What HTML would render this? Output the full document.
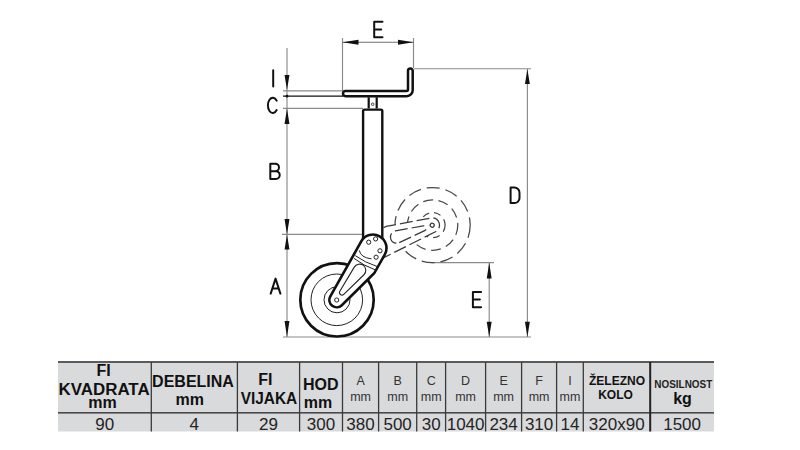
<!DOCTYPE html>
<html><head><meta charset="utf-8"><style>
html,body{margin:0;padding:0;background:#fff;width:800px;height:450px;overflow:hidden}
body{position:relative;font-family:"Liberation Sans",sans-serif}
</style></head><body>

<svg width="800" height="450" viewBox="0 0 800 450" style="position:absolute;left:0;top:0">
 <!-- dimension lines -->
 <g stroke="#8a8a8a" stroke-width="1.15" fill="none">
  <path d="M342.5 38 V91 M413.5 38 V68"/>
  <path d="M342.5 42.2 H413.5" stroke="#6e6e6e"/>
  <path d="M287 48 V337"/>
  <path d="M283 90.8 H342"/>
  <path d="M283 108.4 H363"/>
  <path d="M282 234.4 H363"/>
  <path d="M283 337 H531"/>
  <path d="M414 68.7 H531 M527.4 69 V337"/>
  <path d="M431 262.6 H494 M489.2 263 V337"/>
 </g>
 <path d="M283 96.2 H343" stroke="#111" stroke-width="1.3"/>
 <circle cx="287" cy="96.2" r="1.4" fill="#111"/>
 <g fill="#111">
  <path d="M342.5 42.2 L358.5 39.75 L358.5 44.65 Z"/><path d="M413.5 42.2 L398 39.75 L398 44.65 Z"/>
  <path d="M287 90 L284.55 75 L289.45 75 Z"/><path d="M287 108.4 L284.55 124 L289.45 124 Z"/>
  <path d="M287 234.4 L284.55 219 L289.45 219 Z"/><path d="M287 234.6 L284.55 249.6 L289.45 249.6 Z"/><path d="M287 337 L284.55 321 L289.45 321 Z"/>
  <path d="M527.4 69.3 L524.95 84 L529.85 84 Z"/><path d="M527.4 337 L524.95 321.7 L529.85 321.7 Z"/>
  <path d="M489.2 262.7 L486.75 278.5 L491.65 278.5 Z"/><path d="M489.2 337 L486.75 321.7 L491.65 321.7 Z"/>
 </g>
 <path d="M382.5 21.8 H374.2 V37.2 H382.5 M374.2 29.5 H381.25 M273.2 70.2 V86.4 M276.66 100.64 A4.9 7.65 0 1 0 276.66 110.06 M270.3 163.7 H275.27 A3.73 3.73 0 0 1 275.27 171.16 H270.3 V163.7 M275.88 171.16 A3.83 3.92 0 0 1 275.88 179 H270.3 V171.16 M270.7 293.6 L275.55 278.6 L280.4 293.6 M272.64 288.5 H278.46 M510.6 187.5 H514.34 A5.16 5.16 0 0 1 519.5 192.66 V197.94 A5.16 5.16 0 0 1 514.34 203.1 H510.6 Z M481.1 292 H472.9 V307.2 H481.1 M472.9 299.6 H479.87" stroke="#111" stroke-width="2" fill="none" stroke-linejoin="round" stroke-linecap="round"/>

 <!-- dashed folded wheel & arm -->
 <g stroke="#474747" stroke-width="1.25" fill="none">
  <circle cx="432.6" cy="225.1" r="37.6" stroke-dasharray="13 6"/>
  <circle cx="432.6" cy="225.1" r="25.2" stroke-dasharray="10 5.5"/>
  <circle cx="432.6" cy="225.1" r="12.5" stroke-dasharray="7 5"/>
 </g>
 <g transform="rotate(-146 373 248)" stroke="#3a3a3a" stroke-width="1.25" stroke-dasharray="13 4">
  <path d="M361.23 241.39 L330.33 296.43 A7.3 7.3 0 0 0 341.82 305.2 L374.2 273.3 L384.75 254.65 A13.5 13.5 0 1 0 361.23 241.39 Z" fill="#fff"/>
  <path d="M354.27 267.13 L339.85 291.32 A2.5 2.5 0 0 0 343.74 294.39 L363.93 274.74 A6.2 6.2 0 1 0 354.27 267.13 Z" fill="none"/>
  <circle cx="336.7" cy="300.0" r="2" fill="none" stroke-dasharray="none"/>
 </g>

 <!-- wheel -->
 <circle cx="337" cy="299.8" r="36.7" fill="#fff" stroke="#111" stroke-width="2.7"/>
 <circle cx="336.8" cy="299.8" r="25.8" fill="none" stroke="#222" stroke-width="1"/>
 <circle cx="337" cy="299.8" r="13" fill="none" stroke="#222" stroke-width="1"/>

 <!-- plate -->
 <path d="M345.6 91 H406.6 Q408 91 408 89.6 V70.8 A2.35 2.35 0 0 1 412.7 70.8 V90.2 A6 6 0 0 1 406.7 96.2 H345.6 A2.6 2.6 0 0 1 345.6 91 Z" fill="#fff" stroke="#111" stroke-width="2.5"/>
 <!-- neck -->
 <path d="M368.7 97.2 V108.6 M376.7 97.2 V108.6" stroke="#111" stroke-width="2.2"/>
 <circle cx="372.7" cy="104.2" r="1.3" fill="none" stroke="#333" stroke-width="0.9"/>
 <!-- tube -->
 <path d="M363.1 245 V111 Q363.1 109.6 364.5 109.6 H380.9 Q382.3 109.6 382.3 111 V245" fill="#fff" stroke="#111" stroke-width="2.4"/>

 <!-- arm -->
 <path d="M361.23 241.39 L330.33 296.43 A7.3 7.3 0 0 0 341.82 305.2 L374.2 273.3 L384.75 254.65 A13.5 13.5 0 1 0 361.23 241.39 Z" fill="#fff" stroke="#111" stroke-width="2.6"/>
 <path d="M354.27 267.13 L339.85 291.32 A2.5 2.5 0 0 0 343.74 294.39 L363.93 274.74 A6.2 6.2 0 1 0 354.27 267.13 Z" fill="none" stroke="#222" stroke-width="1.1"/>
 <path d="M355.2 255.6 Q364.8 262.5 377.4 266.6 M354 258.4 Q363.3 265.5 375.6 270 M359.3 250.4 Q360.6 257.6 371.5 258.9" fill="none" stroke="#222" stroke-width="1"/>
 <g fill="none" stroke="#222" stroke-width="1"><circle cx="368.7" cy="242.2" r="2.1"/><circle cx="375.6" cy="238.9" r="2.1"/><circle cx="380" cy="250.8" r="2.1"/><circle cx="376.1" cy="257.2" r="2.1"/>
  <circle cx="336.7" cy="300.0" r="2.1"/>
 </g>
</svg>
<svg width="800" height="450" viewBox="0 0 800 450" style="position:absolute;left:0;top:0" font-family="Liberation Sans, sans-serif"><rect x="58" y="362" width="656" height="69.5" fill="#d9dadc"/><rect x="58" y="361" width="656" height="2" fill="#5a5a5a"/><rect x="58" y="412" width="656" height="1.6" fill="#4a4a4a"/><rect x="150.65" y="362" width="1.3" height="69.5" fill="#3a3a3a"/><rect x="236.75" y="362" width="1.3" height="69.5" fill="#3a3a3a"/><rect x="298.95" y="362" width="1.3" height="69.5" fill="#3a3a3a"/><rect x="341.85" y="362" width="1.3" height="69.5" fill="#3a3a3a"/><rect x="377.95" y="362" width="1.3" height="69.5" fill="#3a3a3a"/><rect x="416.05" y="362" width="1.3" height="69.5" fill="#3a3a3a"/><rect x="444.95" y="362" width="1.3" height="69.5" fill="#3a3a3a"/><rect x="484.95" y="362" width="1.3" height="69.5" fill="#3a3a3a"/><rect x="520.95" y="362" width="1.3" height="69.5" fill="#3a3a3a"/><rect x="555.95" y="362" width="1.3" height="69.5" fill="#3a3a3a"/><rect x="582.65" y="362" width="1.3" height="69.5" fill="#3a3a3a"/><rect x="649.2" y="362" width="2" height="69.5" fill="#222"/><text x="103.5" y="376.2" font-size="16" font-weight="bold" fill="#111" text-anchor="middle">FI</text><text x="104.1" y="394.8" font-size="16" font-weight="bold" fill="#111" text-anchor="middle" textLength="91" lengthAdjust="spacingAndGlyphs">KVADRATA</text><text x="102.4" y="408.1" font-size="16" font-weight="bold" fill="#111" text-anchor="middle">mm</text><text x="193" y="386.5" font-size="16" font-weight="bold" fill="#111" text-anchor="middle">DEBELINA</text><text x="189.7" y="405" font-size="16" font-weight="bold" fill="#111" text-anchor="middle">mm</text><text x="265.3" y="384.7" font-size="16" font-weight="bold" fill="#111" text-anchor="middle">FI</text><text x="269" y="403.7" font-size="16" font-weight="bold" fill="#111" text-anchor="middle" textLength="56.5" lengthAdjust="spacingAndGlyphs">VIJAKA</text><text x="320.7" y="389.6" font-size="16" font-weight="bold" fill="#111" text-anchor="middle">HOD</text><text x="318" y="408.1" font-size="16" font-weight="bold" fill="#111" text-anchor="middle">mm</text><text x="360.55" y="385" font-size="12.5" font-weight="normal" fill="#333" text-anchor="middle">A</text><text x="360.55" y="400.9" font-size="12.5" font-weight="normal" fill="#333" text-anchor="middle">mm</text><text x="397.65" y="385" font-size="12.5" font-weight="normal" fill="#333" text-anchor="middle">B</text><text x="397.65" y="400.9" font-size="12.5" font-weight="normal" fill="#333" text-anchor="middle">mm</text><text x="431.15" y="385" font-size="12.5" font-weight="normal" fill="#333" text-anchor="middle">C</text><text x="431.15" y="400.9" font-size="12.5" font-weight="normal" fill="#333" text-anchor="middle">mm</text><text x="465.6" y="385" font-size="12.5" font-weight="normal" fill="#333" text-anchor="middle">D</text><text x="465.6" y="400.9" font-size="12.5" font-weight="normal" fill="#333" text-anchor="middle">mm</text><text x="503.6" y="385" font-size="12.5" font-weight="normal" fill="#333" text-anchor="middle">E</text><text x="503.6" y="400.9" font-size="12.5" font-weight="normal" fill="#333" text-anchor="middle">mm</text><text x="539.1" y="385" font-size="12.5" font-weight="normal" fill="#333" text-anchor="middle">F</text><text x="539.1" y="400.9" font-size="12.5" font-weight="normal" fill="#333" text-anchor="middle">mm</text><text x="569.95" y="385" font-size="12.5" font-weight="normal" fill="#333" text-anchor="middle">I</text><text x="569.95" y="400.9" font-size="12.5" font-weight="normal" fill="#333" text-anchor="middle">mm</text><text x="617" y="384.5" font-size="12" font-weight="bold" fill="#111" text-anchor="middle">ŽELEZNO</text><text x="615.5" y="399.4" font-size="12" font-weight="bold" fill="#111" text-anchor="middle">KOLO</text><text x="683.3" y="387.7" font-size="10.5" font-weight="bold" fill="#222" text-anchor="middle" textLength="58" lengthAdjust="spacingAndGlyphs">NOSILNOST</text><text x="682.5" y="403.8" font-size="16" font-weight="bold" fill="#111" text-anchor="middle">kg</text><text x="104.65" y="430" font-size="17" font-weight="normal" fill="#242424" text-anchor="middle">90</text><text x="194.35" y="430" font-size="17" font-weight="normal" fill="#242424" text-anchor="middle">4</text><text x="268.5" y="430" font-size="17" font-weight="normal" fill="#242424" text-anchor="middle">29</text><text x="321.05" y="430" font-size="17" font-weight="normal" fill="#242424" text-anchor="middle">300</text><text x="360.55" y="430" font-size="17" font-weight="normal" fill="#242424" text-anchor="middle">380</text><text x="397.65" y="430" font-size="17" font-weight="normal" fill="#242424" text-anchor="middle">500</text><text x="431.15" y="430" font-size="17" font-weight="normal" fill="#242424" text-anchor="middle">30</text><text x="465.6" y="430" font-size="17" font-weight="normal" fill="#242424" text-anchor="middle">1040</text><text x="503.6" y="430" font-size="17" font-weight="normal" fill="#242424" text-anchor="middle">234</text><text x="539.1" y="430" font-size="17" font-weight="normal" fill="#242424" text-anchor="middle">310</text><text x="569.95" y="430" font-size="17" font-weight="normal" fill="#242424" text-anchor="middle">14</text><text x="616.75" y="430" font-size="17" font-weight="normal" fill="#242424" text-anchor="middle">320x90</text><text x="682.1" y="430" font-size="17" font-weight="normal" fill="#242424" text-anchor="middle">1500</text></svg>
</body></html>
